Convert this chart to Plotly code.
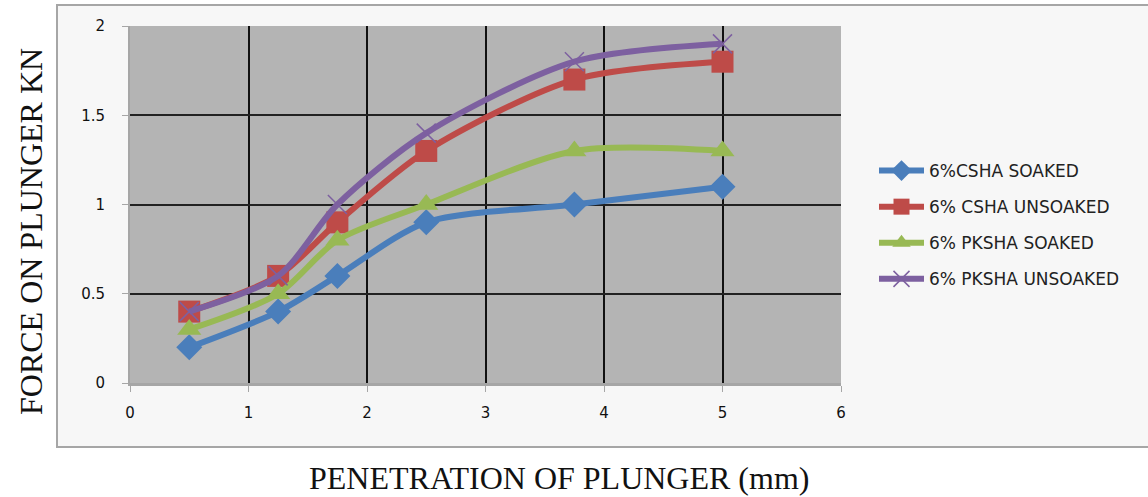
import plotly.graph_objects as go

penetration = [0.5, 1.25, 1.75, 2.5, 3.75, 5]
csha_soaked = [0.2, 0.4, 0.6, 0.9, 1.0, 1.1]
csha_unsoaked = [0.4, 0.6, 0.9, 1.3, 1.7, 1.8]
pksha_soaked = [0.3, 0.5, 0.8, 1.0, 1.3, 1.3]
pksha_unsoaked = [0.4, 0.6, 1.0, 1.4, 1.8, 1.9]

series_names = ["6%CSHA SOAKED", "6% CSHA UNSOAKED", "6% PKSHA SOAKED", "6% PKSHA UNSOAKED"]
series_values = [csha_soaked, csha_unsoaked, pksha_soaked, pksha_unsoaked]
colors = ["#4a7ebb", "#be4b48", "#98b954", "#7d60a0"]
symbols = ["diamond", "square", "triangle-up", "x-thin"]
sizes = [20, 22, 21, 19]

W, H = 1148, 497
L, R, T, B = 130, 1148 - 841, 26, 497 - 383
pw, ph = W - L - R, H - T - B

fig = go.Figure()
for i, (name, vals) in enumerate(zip(series_names, series_values)):
    fig.add_trace(go.Scatter(
        x=penetration, y=vals, name=name, mode="lines+markers",
        line=dict(color=colors[i], width=6, shape="spline", smoothing=0.8),
        marker=dict(symbol=symbols[i], size=sizes[i], color=colors[i],
                    line=dict(color=colors[i], width=1.5 if symbols[i] == "x-thin" else 0)),
        legendgroup=str(i),
    ))

def px_x(p):
    return (p - L) / pw

def px_y(p):
    return (H - B - p) / ph

fig.add_shape(type="rect", xref="paper", yref="paper",
              x0=px_x(57), x1=px_x(1160), y0=px_y(447), y1=px_y(5),
              fillcolor="#f7f7f7", line=dict(color="#a6a6a6", width=2), layer="below")
fig.add_shape(type="rect", xref="paper", yref="paper",
              x0=0, x1=1, y0=0, y1=1,
              fillcolor="#b4b4b4", line=dict(width=0), layer="below")

fig.add_annotation(text="FORCE ON PLUNGER KN", xref="paper", yref="paper",
                   x=px_x(31), y=px_y(232), textangle=-90, showarrow=False,
                   xanchor="center", yanchor="middle",
                   font=dict(family="Liberation Serif", size=32, color="#111"))
fig.add_annotation(text="PENETRATION OF PLUNGER (mm)", xref="paper", yref="paper",
                   x=px_x(559), y=px_y(478), showarrow=False,
                   xanchor="center", yanchor="middle",
                   font=dict(family="Liberation Serif", size=32, color="#111"))

fig.update_layout(
    width=W, height=H,
    margin=dict(l=L, r=R, t=T, b=B),
    paper_bgcolor="white", plot_bgcolor="#b4b4b4",
    showlegend=True,
    legend=dict(x=px_x(874), y=px_y(225), xanchor="left", yanchor="middle",
                bgcolor="rgba(0,0,0,0)", tracegroupgap=11, itemwidth=45,
                font=dict(family="DejaVu Sans", size=17, color="#222")),
    font=dict(family="DejaVu Sans", size=15, color="#111"),
)
fig.update_xaxes(range=[0, 6], tickvals=[0, 1, 2, 3, 4, 5, 6], showgrid=True,
                 gridcolor="#111", gridwidth=1.5, zeroline=False,
                 showline=True, linecolor="#a6a6a6", linewidth=3,
                 ticks="outside", ticklen=6, tickcolor="#a6a6a6", ticklabelstandoff=8)
fig.update_yaxes(range=[0, 2], tickvals=[0, 0.5, 1, 1.5, 2], ticktext=["0", "0.5", "1", "1.5", "2"],
                 showgrid=True, gridcolor="#222", gridwidth=1.5, zeroline=False,
                 showline=True, linecolor="#a6a6a6", linewidth=2,
                 ticks="outside", ticklen=6, tickcolor="#a6a6a6", ticklabelstandoff=14)

fig.write_html("out.html", post_script="document.body.style.margin='0';",
               config={"displayModeBar": False})
